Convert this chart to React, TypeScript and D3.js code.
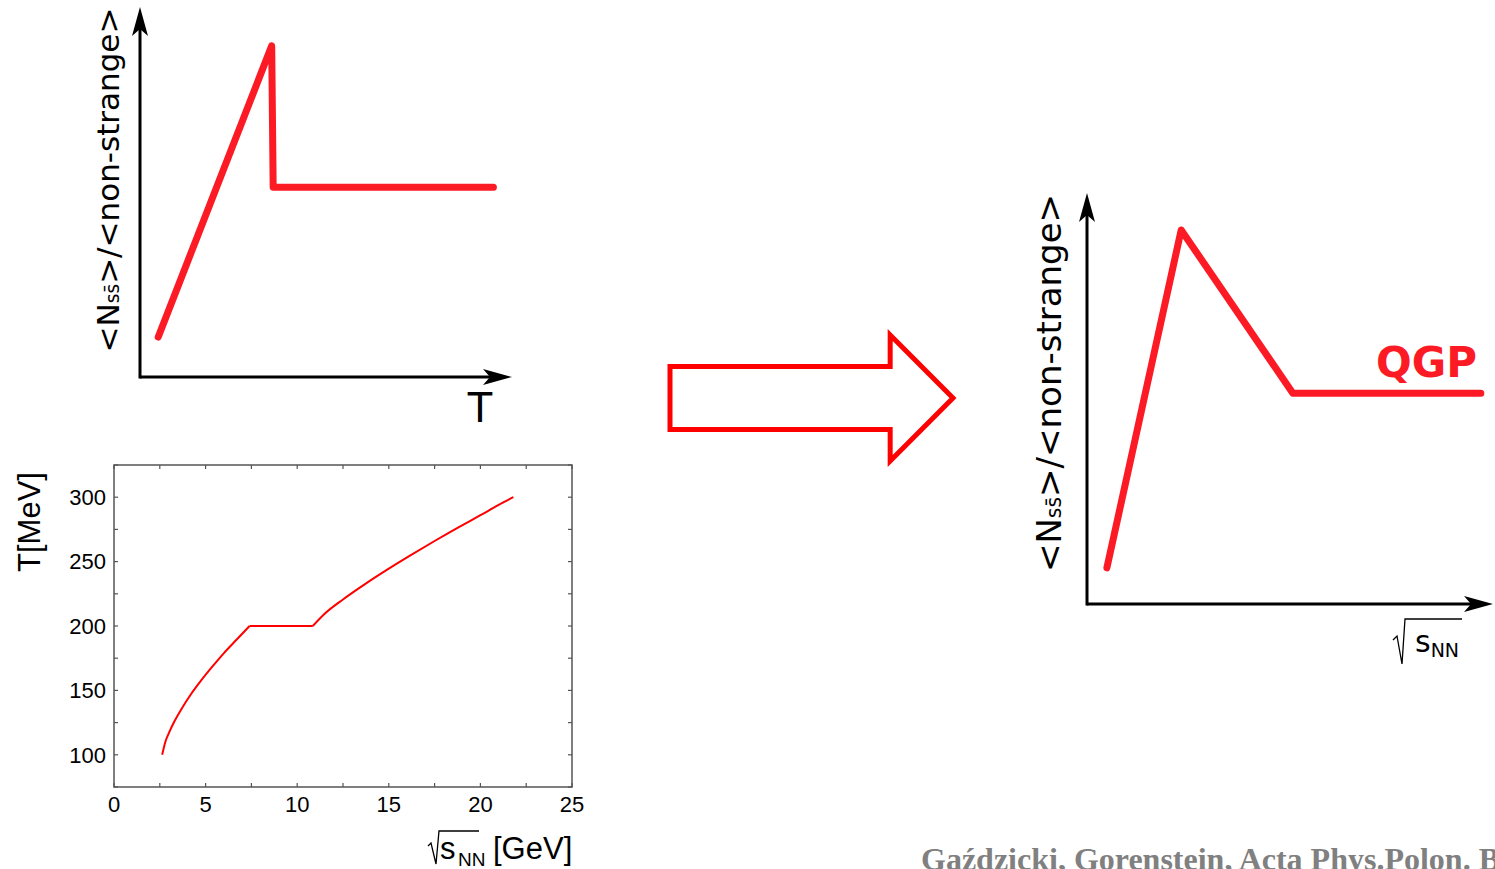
import * as d3 from 'd3';

// bottom plot: T vs sqrt(s_NN)
const T_X = [2.63, 2.8, 3.0, 3.3, 3.7, 4.2, 4.8, 5.4, 6.0, 6.7, 7.4,
  10.85, 11.5, 12.5, 13.7, 15, 16.2, 17.5, 18.8, 20, 21, 21.8];
const T_Y = [100, 110, 117, 126, 136, 147, 158.5, 169, 179, 189.5, 200,
  200, 209.5, 220.6, 232.5, 244.5, 255, 266, 276.6, 286, 294, 300];
const T_SEGMENTS = [[0, 10], [10, 11], [11, 21]];
const X_TICKS = [0, 5, 10, 15, 20, 25];
const X_MINOR = [2.5, 7.5, 12.5, 17.5, 22.5];
const Y_TICKS = [100, 150, 200, 250, 300];
const Y_MINOR = [75, 125, 175, 225, 275, 325];

// schematic sketches (arbitrary units 0..10)
const LEFT_X = [0.49, 3.54, 3.58, 9.5];
const LEFT_Y = [1.08, 8.95, 5.13, 5.13];
const RIGHT_X = [0.49, 2.32, 5.07, 9.7];
const RIGHT_Y = [0.88, 9.1, 5.13, 5.13];

const RED = '#fc1b25';
const SANS = '"DejaVu Sans", sans-serif';
const PLOT_FONT = '"Liberation Sans", Arial, sans-serif';

function arrowHead(tx: number, ty: number, angle: number) {
  // barbed arrow head pointing along angle (radians)
  const len = 29, half = 8, notch = 7;
  const c = Math.cos(angle), s = Math.sin(angle);
  const pt = (along: number, side: number) => [tx - along * c - side * s, ty - along * s + side * c];
  const p = d3.path();
  const a = pt(0, 0), b = pt(len, half), n = pt(len - notch, 0), d = pt(len, -half);
  p.moveTo(a[0], a[1]);
  p.lineTo(b[0], b[1]);
  p.lineTo(n[0], n[1]);
  p.lineTo(d[0], d[1]);
  p.closePath();
  return p.toString();
}

function Sketch({ ox, oy, xEnd, yTop, xs, ys, fontSize, labelX, labelCY }: {
  ox: number; oy: number; xEnd: number; yTop: number; xs: number[]; ys: number[];
  fontSize: number; labelX: number; labelCY: number;
}) {
  const x = d3.scaleLinear().domain([0, 10]).range([ox, xEnd]);
  const y = d3.scaleLinear().domain([0, 10]).range([oy, yTop]);
  const line = d3.line<number>().x((_d, i) => x(xs[i])).y((d) => y(d));
  return (
    <g>
      <line x1={ox} x2={xEnd - 20} y1={oy} y2={oy} stroke="#000" strokeWidth={3} />
      <line x1={ox} x2={ox} y1={oy + 1.5} y2={yTop + 20} stroke="#000" strokeWidth={3} />
      <path d={arrowHead(xEnd, oy, 0)} fill="#000" />
      <path d={arrowHead(ox, yTop, -Math.PI / 2)} fill="#000" />
      <path d={line(ys) ?? ''} fill="none" stroke={RED} strokeWidth={7}
        strokeLinecap="round" strokeLinejoin="round" />
      <text transform={`translate(${labelX},${labelCY}) rotate(-90)`} textAnchor="middle"
        fontFamily={SANS} fontSize={fontSize} fill="#000">
        {'<N'}
        <tspan fontSize={fontSize * 0.6}>{'ss\u0304'}</tspan>
        {'>/<non-strange>'}
      </text>
    </g>
  );
}

export default function App() {
  const W = 1495, H = 869;
  const m = { left: 114, right: 572, top: 465, bottom: 787 };
  const x = d3.scaleLinear().domain([0, 25]).range([m.left, m.right]);
  const y = d3.scaleLinear().domain([75, 325]).range([m.bottom, m.top]);
  const curve = d3.line<number>().x((i) => x(T_X[i])).y((i) => y(T_Y[i])).curve(d3.curveMonotoneX);
  const frame = '#555';

  // hollow arrow in the middle
  const arr = d3.path();
  const ax = d3.scaleLinear().domain([0, 1]).range([670, 953]);
  const ay = d3.scaleLinear().domain([-1, 1]).range([335, 461]);
  [[0, -0.5], [0.778, -0.5], [0.778, -1], [1, 0], [0.778, 1], [0.778, 0.5], [0, 0.5]].forEach(([u, v], i) => {
    if (i === 0) arr.moveTo(ax(u), ay(v));
    else arr.lineTo(ax(u), ay(v));
  });
  arr.closePath();

  return (
    <svg width={W} height={H} style={{ position: 'absolute', left: 0, top: 0, background: '#fff' }}>
      <Sketch ox={140} oy={377} xEnd={512} yTop={7} xs={LEFT_X} ys={LEFT_Y}
        fontSize={31} labelX={119} labelCY={180} />
      <text x={480} y={422} textAnchor="middle" fontFamily={SANS} fontSize={40}>T</text>

      <Sketch ox={1087} oy={604} xEnd={1493} yTop={193} xs={RIGHT_X} ys={RIGHT_Y}
        fontSize={34} labelX={1061} labelCY={383} />
      <text x={1376} y={377} fontFamily={SANS} fontWeight="bold" fontSize={42} fill={RED}>QGP</text>
      <path d="M1393,640 L1397,636 L1402,664 L1405,619 L1462,619" fill="none" stroke="#000" strokeWidth={1.3} />
      <text x={1415} y={652} fontFamily={SANS} fontSize={30}>s
        <tspan fontSize={19} dy={5}>NN</tspan>
      </text>

      <path d={arr.toString()} fill="#fff" stroke="#ff0000" strokeWidth={5} />

      {/* bottom plot */}
      <rect x={m.left} y={m.top} width={m.right - m.left} height={m.bottom - m.top}
        fill="none" stroke={frame} strokeWidth={1.5} />
      {X_TICKS.concat(X_MINOR).map((t) => (
        <g key={'x' + t}>
          <line x1={x(t)} x2={x(t)} y1={m.bottom} y2={m.bottom - 4} stroke={frame} strokeWidth={1.2} />
          <line x1={x(t)} x2={x(t)} y1={m.top} y2={m.top + 4} stroke={frame} strokeWidth={1.2} />
        </g>
      ))}
      {Y_TICKS.concat(Y_MINOR).map((t) => (
        <g key={'y' + t}>
          <line x1={m.left} x2={m.left + 4} y1={y(t)} y2={y(t)} stroke={frame} strokeWidth={1.2} />
          <line x1={m.right} x2={m.right - 4} y1={y(t)} y2={y(t)} stroke={frame} strokeWidth={1.2} />
        </g>
      ))}
      {X_TICKS.map((t) => (
        <text key={'xl' + t} x={x(t)} y={812} textAnchor="middle" fontFamily={PLOT_FONT} fontSize={22}>{t}</text>
      ))}
      {Y_TICKS.map((t) => (
        <text key={'yl' + t} x={106} y={y(t)} dy="0.35em" textAnchor="end" fontFamily={PLOT_FONT} fontSize={22}>{t}</text>
      ))}
      {T_SEGMENTS.map(([a, b]) => (
        <path key={a} d={curve(d3.range(a, b + 1)) ?? ''} fill="none" stroke="#ff0000" strokeWidth={2} />
      ))}
      <text transform="translate(40,522) rotate(-90)" textAnchor="middle" fontFamily={PLOT_FONT} fontSize={31}>T[MeV]</text>
      <path d="M428,846 L431,843 L436,864 L439,831 L479,831" fill="none" stroke="#000" strokeWidth={1.3} />
      <text x={440} y={859} fontFamily={PLOT_FONT} fontSize={31}>s</text>
      <text x={458} y={866} fontFamily={PLOT_FONT} fontSize={19}>NN</text>
      <text x={493} y={859} fontFamily={PLOT_FONT} fontSize={31}>[GeV]</text>

      <text x={921} y={870} fontFamily={'"Liberation Serif", serif'} fontWeight="bold" fontSize={32} fill="#808080">
        Gaździcki, Gorenstein, Acta Phys.Polon. B
      </text>
    </svg>
  );
}
